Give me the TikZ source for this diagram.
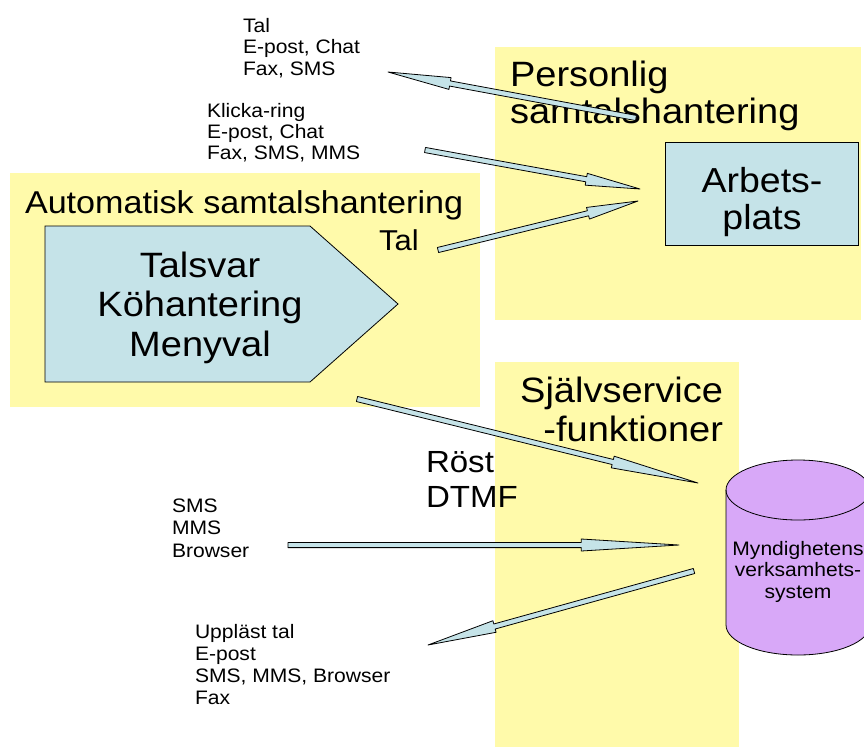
\documentclass[tikz,border=0pt]{standalone}
\usepackage{fontspec}
\setmainfont[FakeStretch=1.08]{Liberation Sans}
\usetikzlibrary{calc}
\definecolor{ylw}{RGB}{255,250,170}
\definecolor{lblue}{RGB}{197,227,232}
\definecolor{lpurple}{RGB}{216,168,248}
\newcommand\lines[2]{\begin{tabular}[t]{@{}#1@{}}#2\end{tabular}}
\tikzset{
  region/.style={fill=ylw, draw=none},
  shapeline/.style={draw=black, line width=0.8pt, fill=lblue},
  fatarrowstyle/.style={draw=black, line width=0.8pt, fill=lblue, line join=round},
  txt/.style={inner sep=0pt, outer sep=0pt, text=black},
  small/.style={txt, font=\fontsize{19.5}{21.5}\selectfont},
  big/.style={txt, font=\fontsize{35}{38}\selectfont},
}
\newcommand\fatarrow[2]{%
  \path (#1) -- (#2) coordinate[pos=0.75] (fab);
  \draw[fatarrowstyle] ($(#1)!2.6pt!90:(#2)$) -- ($(fab)!2.6pt!90:(#2)$) -- ($(fab)!6pt!90:(#2)$) -- (#2) -- ($(fab)!6pt!-90:(#2)$) -- ($(fab)!2.6pt!-90:(#2)$) -- ($(#1)!2.6pt!-90:(#2)$) -- cycle;}
\begin{document}
\begin{tikzpicture}[x=1pt,y=-1pt]
\useasboundingbox (0,0) rectangle (864,747);
\clip (0,0) rectangle (864,747);
% regions
\fill[region] (10,173) rectangle (480,407);
\fill[region] (495,47) rectangle (861,320);
\fill[region] (495,362) rectangle (739,747);
% pentagon
\draw[shapeline] (45,226) -- (310,226) -- (398,304) -- (310,382) -- (45,382) -- cycle;
% Arbetsplats box
\node[shapeline, minimum width=193pt, minimum height=103pt, inner sep=0pt] (arb) at (761.5,193.5) {};
% cylinder
\draw[draw=black, line width=0.8pt, fill=lpurple] (726,490) -- (726,625) arc (180:360:72pt and 30pt) -- (870,490) arc (0:180:72pt and 30pt) -- cycle;
\draw[line width=0.8pt] (726,490) arc (180:360:72pt and 30pt);
% texts
\node[small, anchor=base west] (g1) at (243,32) {\lines{l}{Tal\\E-post, Chat\\Fax, SMS}};
\node[small, anchor=base west, font=\fontsize{19.5}{21}\selectfont] (g2) at (207,117) {\lines{l}{Klicka-ring\\E-post, Chat\\Fax, SMS, MMS}};
\node[big, anchor=base west, font=\fontsize{35.2}{37}\selectfont] (pers) at (510,86) {\lines{l}{Personlig\\samtalshantering}};
\node[big, anchor=base, font=\fontsize{34.7}{37}\selectfont] (arbtxt) at (762,192) {\lines{c}{Arbets-\\plats}};
\node[txt, anchor=base west, font=\fontsize{31.6}{34}\selectfont] (auto) at (25,213) {Automatisk samtalshantering};
\node[txt, anchor=base west, font=\fontsize{28.7}{31}\selectfont] (tal) at (379,250) {Tal};
\node[big, anchor=base, font=\fontsize{35.2}{39.5}\selectfont] (talsvar) at (200,277) {\lines{c}{Talsvar\\Köhantering\\Menyval}};
\node[big, anchor=base east, font=\fontsize{35.2}{39}\selectfont] (self) at (723,402) {\lines{r}{Självservice\\-funktioner}};
\node[txt, anchor=base west, font=\fontsize{30.6}{35}\selectfont] (rost) at (426,472) {\lines{l}{Röst\\DTMF}};
\node[small, anchor=base west, font=\fontsize{19.5}{22.5}\selectfont] (g3) at (172,512) {\lines{l}{SMS\\MMS\\Browser}};
\node[small, anchor=base west, font=\fontsize{19.5}{22}\selectfont] (g4) at (195,638) {\lines{l}{Uppläst tal\\E-post\\SMS, MMS, Browser\\Fax}};
\node[small, anchor=base] (myn) at (798,555) {\lines{c}{Myndighetens\\verksamhets-\\system}};
% arrow end points
\coordinate (a1s) at (636,118); \coordinate (a1e) at (388,72);
\coordinate (a2s) at (425,150); \coordinate (a2e) at (640,189);
\coordinate (a3s) at (438,250); \coordinate (a3e) at (638,201);
\coordinate (a4s) at (357,399); \coordinate (a4e) at (698,483);
\coordinate (a5s) at (288,545); \coordinate (a5e) at (679,545);
\coordinate (a6s) at (694,571); \coordinate (a6e) at (428,645);
\fatarrow{a1s}{a1e}
\fatarrow{a2s}{a2e}
\fatarrow{a3s}{a3e}
\fatarrow{a4s}{a4e}
\fatarrow{a5s}{a5e}
\fatarrow{a6s}{a6e}
\end{tikzpicture}
\end{document}
